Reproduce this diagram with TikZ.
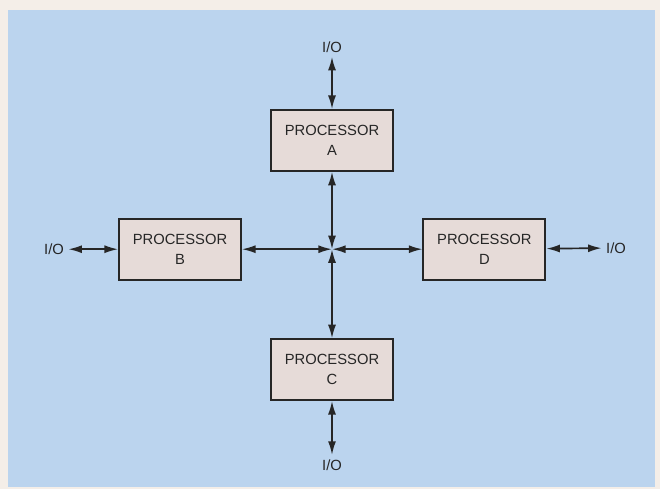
\documentclass[tikz,border=0pt]{standalone}
\usepackage{fontspec}
\setmainfont{Liberation Sans}
\usepackage{xcolor}
\usetikzlibrary{arrows.meta}
\definecolor{paper}{HTML}{F4EEE8}
\definecolor{sky}{HTML}{BBD4EE}
\definecolor{boxfill}{HTML}{E6DBD8}
\definecolor{ink}{HTML}{262626}

\begin{document}
\begin{tikzpicture}[font=\fontsize{10.5}{14}\selectfont, color=ink,
  link/.style={{Latex[length=3.4mm,width=2mm]}-{Latex[length=3.4mm,width=2mm]}, line width=1.2pt},
  proc/.style={draw, line width=1.3pt, fill=boxfill, minimum width=3.05cm, minimum height=1.52cm, align=center},
  io/.style={inner sep=3pt}]
\fill[paper] (0,0) rectangle (16.5,-12.225);
\fill[sky] (0.2,-0.25) rectangle (16.375,-12.175);
\useasboundingbox (0,0) rectangle (16.5,-12.225);
\node[proc] (A) at (8.3,-3.51) {PROCESSOR\\A};
\node[proc] (B) at (4.5,-6.23) {PROCESSOR\\B};
\node[proc] (D) at (12.11,-6.23) {PROCESSOR\\D};
\node[proc] (C) at (8.3,-9.24) {PROCESSOR\\C};
\coordinate (hub) at (8.3,-6.23);
\node[io] (ioA) at (8.3,-1.17) {I/O};
\node[io] (ioB) at (1.35,-6.23) {I/O};
\node[io] (ioD) at (15.4,-6.2) {I/O};
\node[io] (ioC) at (8.3,-11.62) {I/O};
\draw[link] (ioA) -- (A);
\draw[link] (ioB) -- (B);
\draw[link] (D) -- (ioD);
\draw[link] (C) -- (ioC);
\draw[link] (A) -- (hub);
\draw[link] (B) -- (hub);
\draw[link] (D) -- (hub);
\draw[link] (C) -- (hub);
\end{tikzpicture}
\end{document}
